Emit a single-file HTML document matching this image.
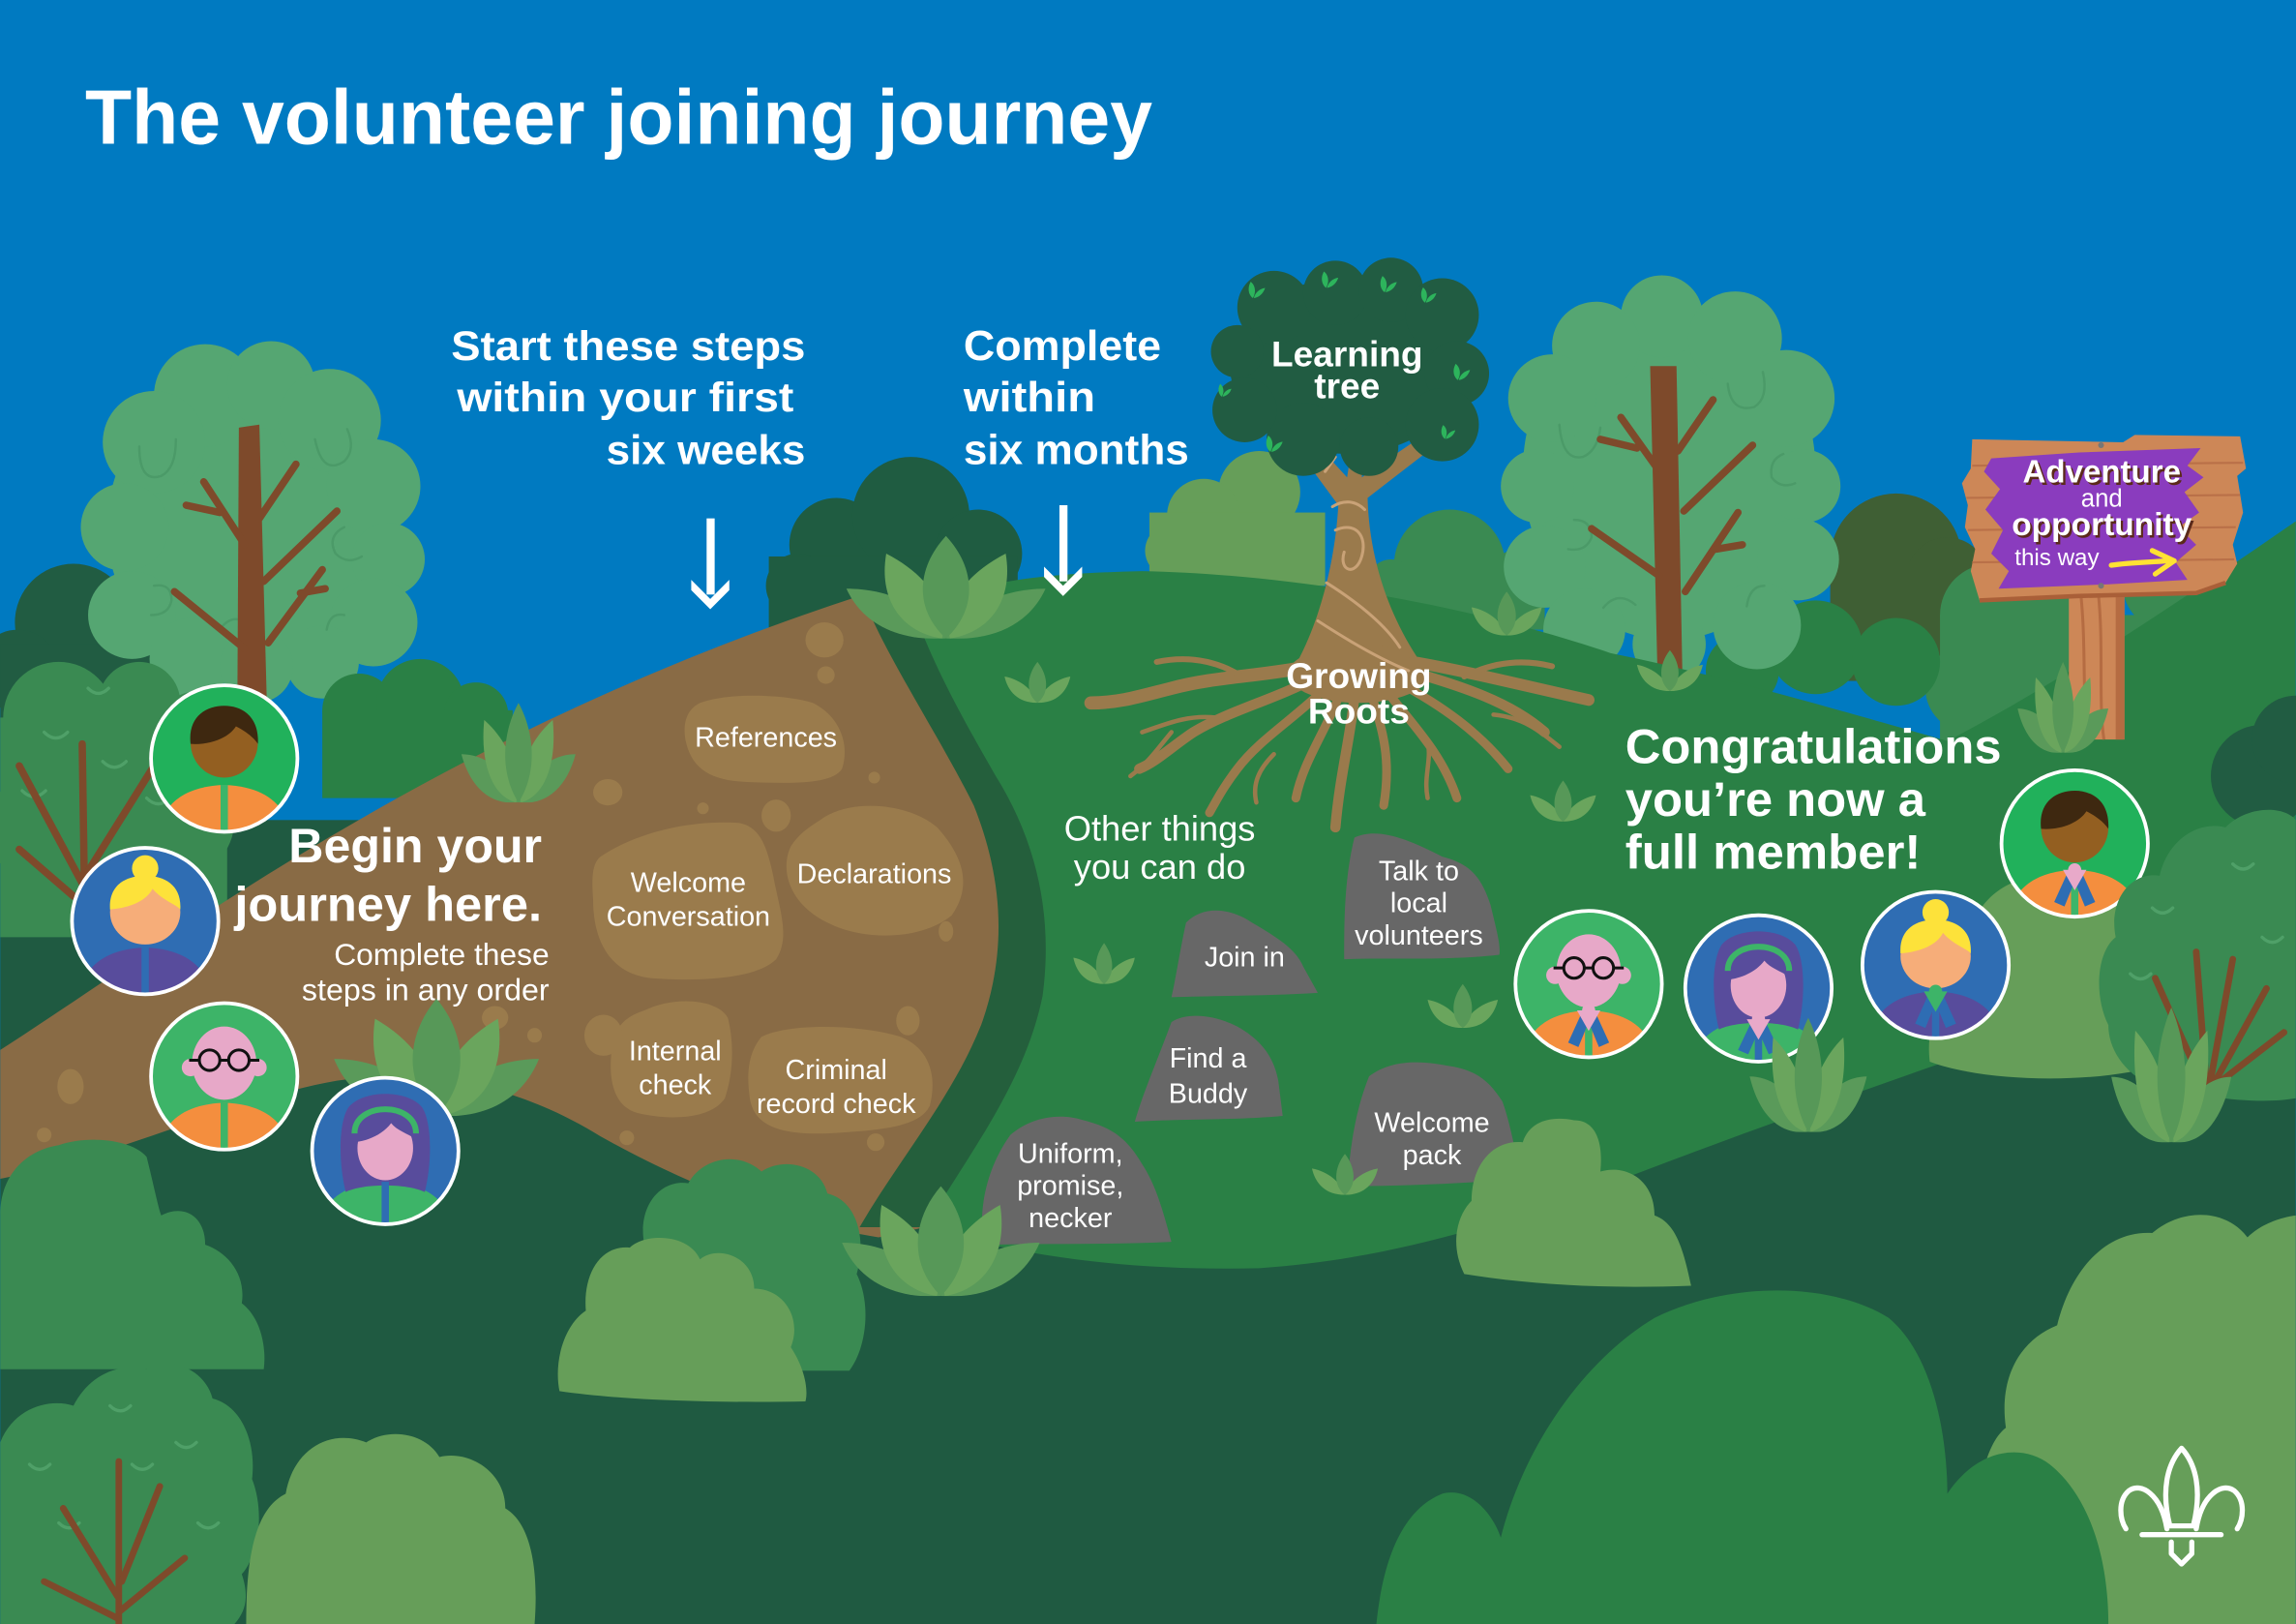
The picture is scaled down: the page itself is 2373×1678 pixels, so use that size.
<!DOCTYPE html>
<html><head><meta charset="utf-8"><title>The volunteer joining journey</title>
<style>
html,body{margin:0;padding:0;overflow:hidden;background:#007ac1}
svg{display:block}
text{font-family:"Liberation Sans",Arial,sans-serif;fill:#fff}
.b{font-weight:bold}
.c{text-anchor:middle}
</style></head><body>
<svg xmlns="http://www.w3.org/2000/svg" width="2373" height="1678" viewBox="0 0 1568 1109">
<defs>
 <symbol id="lv" viewBox="0 0 100 70" preserveAspectRatio="none">
  <path fill="#5a9a5a" d="M0,36 C24,36 44,52 50,70 C26,72 8,60 0,36Z"/>
  <path fill="#5a9a5a" d="M100,36 C92,60 74,72 50,70 C56,52 76,36 100,36Z"/>
  <path fill="#6aa55d" d="M20,12 C40,26 52,48 48,70 C28,66 16,44 20,12Z"/>
  <path fill="#6aa55d" d="M80,12 C84,44 72,66 52,70 C48,48 60,26 80,12Z"/>
  <path fill="#579858" d="M50,0 C65,22 66,50 50,70 C34,50 35,22 50,0Z"/>
 </symbol>
 <symbol id="ls" viewBox="0 0 40 28" preserveAspectRatio="none">
  <path fill="#6aa55d" d="M0,10 C10,12 18,20 20,28 C8,28 2,20 0,10Z"/>
  <path fill="#6aa55d" d="M40,10 C38,20 32,28 20,28 C22,20 30,12 40,10Z"/>
  <path fill="#579858" d="M20,0 C27,10 27,22 20,28 C13,22 13,10 20,0Z"/>
 </symbol>
 <symbol id="bl" viewBox="0 0 20 16">
  <path fill="#2db45c" d="M6,0 C11,4 11,11 8,16 C3,12 3,5 6,0Z"/>
  <path fill="#2db45c" d="M20,6 C18,12 14,15 9,16 C10,11 14,7 20,6Z"/>
 </symbol>
 <clipPath id="cc"><circle r="50"/></clipPath>
</defs>

<!-- sky -->
<rect width="1568" height="1109" fill="#007ac1"/>

<!-- far bushes -->
<g fill="#215c42">
 <circle cx="50" cy="425" r="40"/><circle cx="100" cy="420" r="32"/><circle cx="12" cy="458" r="28"/>
 <rect x="0" y="440" width="140" height="140"/>
</g>
<g fill="#1f5c41">
 <circle cx="571" cy="372" r="32"/><circle cx="622" cy="352" r="40"/><circle cx="668" cy="378" r="30"/><circle cx="545" cy="400" r="22"/>
 <rect x="525" y="380" width="170" height="60"/>
</g>
<g fill="#669e59">
 <circle cx="860" cy="336" r="28"/><circle cx="822" cy="352" r="25"/><circle cx="800" cy="376" r="18"/>
 <rect x="785" y="350" width="120" height="50"/>
</g>
<g fill="#3a8a52">
 <circle cx="990" cy="386" r="38"/><circle cx="950" cy="398" r="16"/><circle cx="1035" cy="396" r="20"/>
 <rect x="935" y="390" width="120" height="40"/>
</g>
<g fill="#3f5f34">
 <circle cx="1295" cy="382" r="45"/><circle cx="1330" cy="395" r="28"/>
 <rect x="1250" y="385" width="95" height="80"/>
</g>
<g fill="#3a8a52">
 <circle cx="1360" cy="420" r="35"/><circle cx="1345" cy="470" r="30"/><circle cx="1395" cy="430" r="28"/>
 <circle cx="1480" cy="400" r="30"/><circle cx="1525" cy="420" r="30"/>
 <rect x="1325" y="420" width="240" height="100"/>
</g>
<g fill="#2a8045">
 <circle cx="1190" cy="458" r="25"/><circle cx="1240" cy="442" r="32"/><circle cx="1295" cy="452" r="30"/>
</g>

<!-- left tree -->
<g fill="#55a672">
 <ellipse cx="173" cy="360" rx="100" ry="105"/>
 <circle cx="140" cy="270" r="35"/><circle cx="185" cy="263" r="30"/><circle cx="225" cy="287" r="35"/>
 <circle cx="105" cy="302" r="35"/><circle cx="255" cy="332" r="32"/><circle cx="85" cy="360" r="30"/>
 <circle cx="265" cy="382" r="25"/><circle cx="90" cy="420" r="30"/><circle cx="255" cy="425" r="30"/>
 <circle cx="130" cy="450" r="28"/><circle cx="220" cy="452" r="25"/><circle cx="175" cy="455" r="25"/>
</g>
<g fill="none" stroke="#4b9a68" stroke-width="1.6" stroke-linecap="round">
 <path d="M95,305 q0,25 15,20 q10,-5 10,-25"/><path d="M215,300 q5,25 20,15 q8,-8 2,-22"/>
 <path d="M235,360 q-12,6 -6,18 q8,8 18,2"/><path d="M105,400 q12,-2 12,10 q-2,10 -14,10"/>
 <path d="M150,430 q8,-12 20,-4 q8,8 0,18"/><path d="M235,420 q-10,-2 -12,10"/>
</g>
<path d="M163,292 L177,290 L182,476 L162,476Z" fill="#7e4a2b"/>
<g stroke="#7e4a2b" stroke-width="5" stroke-linecap="round" fill="none">
 <path d="M167,372 L139,329"/><path d="M150,350 L127,345"/><path d="M177,354 L202,317"/>
 <path d="M180,397 L230,349"/><path d="M167,443 L119,404"/><path d="M183,439 L220,389"/><path d="M205,405 L222,402"/>
</g>

<!-- right tree -->
<g fill="#55a672">
 <ellipse cx="1140" cy="322" rx="100" ry="115"/>
 <circle cx="1135" cy="216" r="28"/><circle cx="1090" cy="236" r="30"/><circle cx="1185" cy="231" r="32"/>
 <circle cx="1060" cy="272" r="30"/><circle cx="1220" cy="272" r="33"/><circle cx="1050" cy="332" r="25"/>
 <circle cx="1232" cy="332" r="25"/><circle cx="1055" cy="387" r="28"/><circle cx="1228" cy="382" r="28"/>
 <circle cx="1082" cy="430" r="28"/><circle cx="1200" cy="427" r="30"/><circle cx="1140" cy="440" r="25"/>
</g>
<g fill="none" stroke="#4b9a68" stroke-width="1.6" stroke-linecap="round">
 <path d="M1065,290 q2,25 16,22 q10,-4 12,-20"/><path d="M1180,262 q2,20 18,16 q10,-6 6,-24"/>
 <path d="M1218,310 q-10,4 -8,16 q6,8 16,4"/><path d="M1075,355 q12,0 12,12 q-4,10 -16,8"/>
 <path d="M1095,415 q10,-12 22,-2"/><path d="M1205,400 q-10,0 -12,14"/>
</g>
<path d="M1127,250 L1145,250 L1149,459 L1132,459Z" fill="#7e4a2b"/>
<g stroke="#7e4a2b" stroke-width="5" stroke-linecap="round" fill="none">
 <path d="M1132,320 L1107,285"/><path d="M1118,306 L1093,300"/><path d="M1146,308 L1170,273"/>
 <path d="M1150,349 L1197,304"/><path d="M1133,393 L1087,361"/><path d="M1151,404 L1187,350"/><path d="M1172,375 L1190,372"/>
</g>

<!-- dark foreground -->
<rect x="0" y="560" width="1568" height="549" fill="#1f5a41"/>

<!-- left bushes -->
<g fill="#3a8a52">
 <circle cx="40" cy="490" r="38"/><circle cx="95" cy="480" r="28"/><circle cx="135" cy="502" r="30"/>
 <circle cx="25" cy="565" r="35"/><circle cx="120" cy="560" r="40"/>
 <rect x="0" y="490" width="155" height="150"/>
</g>
<g fill="none" stroke="#4fa068" stroke-width="2.2" stroke-linecap="round">
 <path d="M30,500 q8,8 16,0"/><path d="M70,520 q8,8 16,0"/><path d="M15,540 q8,8 16,0"/><path d="M100,545 q8,8 16,0"/><path d="M60,470 q7,7 14,0"/>
</g>
<g stroke="#7e4a2b" stroke-width="5" stroke-linecap="round" fill="none">
 <path d="M58,640 L56,508"/><path d="M57,605 L13,523"/><path d="M50,612 L13,580"/><path d="M60,595 L105,523"/>
</g>
<g fill="#2a8045">
 <circle cx="245" cy="485" r="25"/><circle cx="287" cy="480" r="30"/><circle cx="325" cy="488" r="22"/>
 <rect x="220" y="485" width="130" height="60"/>
</g>

<!-- main hill -->
<path d="M610,430 C650,398 700,392 780,390 C880,392 1000,412 1100,446 C1180,462 1280,492 1330,506 C1400,470 1490,410 1568,356 L1568,690 L1400,700 C1300,735 1200,770 1127,798 C1030,835 950,860 860,866 C780,868 700,860 620,835Z" fill="#2a8045"/>
<g fill="#215c42"><circle cx="1545" cy="530" r="35"/><circle cx="1568" cy="505" r="30"/></g>

<!-- path -->
<path d="M0,717 C120,640 300,500 590,406 C615,440 650,490 680,540 C710,600 715,660 700,710 C680,760 650,800 632,838 L600,845 C540,835 480,815 410,776 C360,745 300,728 230,738 C160,750 80,790 0,805Z" fill="#896b45"/>
<path d="M589,406 C600,440 640,500 665,550 C685,600 688,650 670,700 C650,750 615,790 587,838 L632,838 C660,790 700,740 712,680 C720,620 705,570 680,530 C660,495 640,460 625,420 C610,405 595,403 589,406Z" fill="#245f3c"/>

<!-- stones -->
<g fill="#9a7b4c">
 <path d="M478,480 C500,472 540,475 555,480 C575,490 580,510 575,525 C568,536 540,535 510,534 C485,533 472,525 468,505 C466,492 470,484 478,480Z"/>
 <path d="M410,585 C440,565 480,560 505,562 C520,565 524,580 528,598 C532,620 540,640 530,655 C515,670 470,670 445,668 C415,665 405,640 405,615 C404,600 404,590 410,585Z"/>
 <path d="M560,560 C580,545 620,548 640,565 C658,585 664,605 650,625 C630,642 590,643 565,630 C540,618 532,595 540,578 C545,570 552,565 560,560Z"/>
 <path d="M440,690 C460,680 490,682 497,695 C502,715 500,735 495,750 C485,765 455,765 435,760 C418,755 415,735 418,715 C420,700 428,694 440,690Z"/>
 <path d="M520,708 C540,698 590,700 615,708 C635,716 640,735 635,755 C628,770 600,772 565,774 C535,775 515,770 512,750 C510,735 510,720 520,708Z"/>
 <ellipse cx="563" cy="437" rx="13" ry="12"/><circle cx="564" cy="461" r="6"/>
 <ellipse cx="530" cy="557" rx="10" ry="11"/><ellipse cx="412" cy="707" rx="13" ry="14"/>
 <ellipse cx="620" cy="697" rx="8" ry="10"/><ellipse cx="646" cy="636" rx="5" ry="7"/>
 <circle cx="597" cy="531" r="4"/><ellipse cx="48" cy="742" rx="9" ry="12"/><circle cx="30" cy="775" r="5"/>
 <circle cx="428" cy="777" r="5"/><circle cx="598" cy="780" r="6"/><ellipse cx="415" cy="541" rx="10" ry="9"/>
 <circle cx="480" cy="552" r="4"/><circle cx="365" cy="707" r="5"/><ellipse cx="338" cy="695" rx="9" ry="8"/>
</g>

<!-- learning tree -->
<g fill="#9a7a4c">
 <path d="M886,307 L898,302 L920,326 L923,306 L933,304 L930,326 L968,300 L978,306 L934,340 C935,380 948,420 970,452 L886,452 C903,420 912,380 914,345Z"/>
 <ellipse cx="928" cy="460" rx="48" ry="20"/>
</g>
<g fill="none" stroke="#9a7a4c" stroke-linecap="round" stroke-linejoin="round">
 <path stroke-width="9" d="M895,455 C860,462 830,462 800,470 C780,475 765,480 745,480"/>
 <path stroke-width="7" d="M900,462 C870,478 840,485 815,500 C800,510 790,520 778,525"/>
 <path stroke-width="6" d="M905,470 C885,490 860,505 845,525 C835,538 830,548 826,555"/>
 <path stroke-width="6" d="M915,474 C905,500 890,520 885,545"/>
 <path stroke-width="7" d="M925,476 C922,505 915,530 912,565"/>
 <path stroke-width="6" d="M937,476 C945,500 950,520 945,550"/>
 <path stroke-width="6" d="M947,472 C965,495 985,515 995,545"/>
 <path stroke-width="6" d="M955,466 C985,482 1010,500 1030,525"/>
 <path stroke-width="7" d="M962,458 C995,468 1030,478 1055,500"/>
 <path stroke-width="8" d="M965,452 C1000,458 1040,468 1085,478"/>
 <path stroke-width="4" d="M850,463 C830,450 810,448 790,452"/>
 <path stroke-width="4" d="M1000,462 C1020,452 1040,450 1060,455"/>
 <path stroke-width="3" d="M830,490 C810,488 795,495 780,500"/>
 <path stroke-width="3" d="M1020,488 C1040,490 1050,498 1065,510"/>
 <path stroke-width="3" d="M870,515 C860,525 855,535 858,548"/>
 <path stroke-width="3" d="M975,505 C978,520 972,530 975,545"/>
 <path stroke-width="3" d="M800,500 C790,512 785,520 772,530"/>
</g>
<g fill="none" stroke="#c9a277" stroke-width="2" stroke-linecap="round">
 <path d="M910,346 C918,341 926,342 932,348"/><path d="M912,362 C926,356 934,366 930,380 C926,394 914,390 918,377"/>
 <path d="M906,398 C925,410 945,425 956,442"/><path d="M900,424 C920,437 942,450 962,458"/>
 <path d="M905,322 L912,312"/><path d="M944,316 L948,305"/>
</g>
<g fill="#215c42">
 <ellipse cx="920" cy="250" rx="80" ry="60"/>
 <circle cx="870" cy="210" r="25"/><circle cx="912" cy="200" r="22"/><circle cx="950" cy="198" r="22"/>
 <circle cx="985" cy="215" r="25"/><circle cx="995" cy="255" r="22"/><circle cx="985" cy="290" r="25"/>
 <circle cx="935" cy="305" r="20"/><circle cx="890" cy="300" r="25"/><circle cx="850" cy="280" r="22"/><circle cx="845" cy="240" r="18"/>
</g>
<use href="#bl" x="850" y="192" width="14" height="12"/>
<use href="#bl" x="900" y="185" width="14" height="12"/>
<use href="#bl" x="940" y="188" width="14" height="12"/>
<use href="#bl" x="968" y="196" width="13" height="11"/>
<use href="#bl" x="990" y="248" width="14" height="12"/>
<use href="#bl" x="830" y="262" width="11" height="9"/>
<use href="#bl" x="862" y="297" width="14" height="12"/>
<use href="#bl" x="982" y="290" width="12" height="10"/>

<!-- sign -->
<g>
 <rect x="1413" y="398" width="38" height="107" fill="#cd8757"/>
 <path d="M1421,404 C1425,440 1422,480 1426,505 M1433,404 C1437,440 1433,480 1437,505" stroke="#b56c42" stroke-width="2" fill="none"/>
 <rect x="1445" y="404" width="6" height="101" fill="#b56c42"/>
 <path d="M1347,300 L1450,302 L1458,297 L1530,298 L1534,320 L1528,325 L1532,350 L1525,372 L1528,385 L1520,398 L1500,405 L1420,407 L1352,410 L1346,390 L1349,375 L1342,360 L1344,345 L1340,330 L1346,320Z" fill="#cd8757"/>
 <path d="M1352,410 L1420,407 L1500,405 L1520,398" stroke="#a95f38" stroke-width="3" fill="none"/>
 <g stroke="#b97048" stroke-width="1.4" fill="none">
  <path d="M1347,318 L1532,316"/><path d="M1343,340 L1530,338"/><path d="M1344,362 L1527,360"/><path d="M1347,384 L1526,382"/>
 </g>
 <path d="M1360,313 L1420,309 L1503,306 L1494,318 L1505,326 L1492,336 L1502,350 L1488,360 L1500,372 L1486,384 L1494,396 L1440,399 L1365,402 L1372,390 L1360,378 L1368,362 L1356,348 L1366,334 L1355,322Z" fill="#8a3cbe"/>
 <circle cx="1435" cy="304" r="2" fill="#777"/><circle cx="1435" cy="400" r="2" fill="#777"/>
 <text x="1437" y="331" class="b c" font-size="22" textLength="108" lengthAdjust="spacingAndGlyphs" style="fill:#5b2a1a">Adventure</text>
 <text x="1435.5" y="329.5" class="b c" font-size="22" textLength="108" lengthAdjust="spacingAndGlyphs">Adventure</text>
 <text x="1435.5" y="346" class="c" font-size="17">and</text>
 <text x="1437" y="367" class="b c" font-size="22" textLength="123" lengthAdjust="spacingAndGlyphs" style="fill:#5b2a1a">opportunity</text>
 <text x="1435.5" y="365.5" class="b c" font-size="22" textLength="123" lengthAdjust="spacingAndGlyphs">opportunity</text>
 <text x="1376" y="386" font-size="16">this way</text>
 <path d="M1442,386 C1455,384 1468,384 1480,383" stroke="#ffe233" stroke-width="3.5" fill="none" stroke-linecap="round"/>
 <path d="M1470,376 L1485,383 L1472,392" stroke="#ffe233" stroke-width="3.5" fill="none" stroke-linecap="round" stroke-linejoin="round"/>
</g>

<!-- grey rocks -->
<g fill="#676767">
 <path d="M925,572 C940,565 960,572 985,585 C1005,590 1012,600 1018,618 C1022,635 1025,645 1024,652 C990,656 950,654 918,655 C918,630 918,600 925,572Z"/>
 <path d="M810,630 C822,618 840,620 855,630 C872,640 885,648 890,660 L900,678 C870,680 830,680 800,681 C803,668 806,648 810,630Z"/>
 <path d="M800,698 C812,690 835,694 850,704 C862,712 870,722 873,738 L876,762 C845,765 805,764 775,766 C780,748 790,725 800,698Z"/>
 <path d="M935,735 C952,722 975,725 990,728 C1010,731 1018,740 1026,752 C1032,768 1035,790 1040,805 C1000,808 960,810 920,810 C922,785 925,760 935,735Z"/>
 <path d="M690,775 C705,762 725,760 740,765 C760,770 770,778 780,795 C790,810 795,830 800,848 C760,850 720,849 672,850 C668,830 672,800 690,775Z"/>
</g>

<!-- leaf clusters (back) -->
<use href="#lv" x="315" y="480" width="78" height="68"/>
<use href="#lv" x="228" y="682" width="140" height="80"/>
<use href="#lv" x="578" y="366" width="136" height="70"/>
<use href="#ls" x="686" y="452" width="45" height="28"/>
<use href="#ls" x="733" y="644" width="42" height="28"/>
<use href="#ls" x="1005" y="404" width="48" height="30"/>
<use href="#ls" x="1045" y="533" width="45" height="28"/>
<use href="#ls" x="975" y="672" width="48" height="30"/>
<use href="#ls" x="896" y="788" width="45" height="28"/>
<use href="#ls" x="1118" y="444" width="45" height="28"/>
<use href="#lv" x="1378" y="452" width="62" height="62"/>

<!-- olive bushes mid -->
<path d="M1318,725 C1315,700 1325,680 1340,675 L1345,640 C1350,610 1380,595 1400,600 C1420,585 1445,590 1450,610 L1455,732 C1410,740 1350,737 1318,725Z" fill="#669e59"/>
<path d="M1000,870 C990,850 995,830 1005,820 C1005,795 1020,778 1040,780 C1045,765 1060,762 1075,765 C1090,765 1095,780 1093,800 C1110,795 1130,805 1130,830 C1145,835 1150,855 1155,878 C1100,880 1050,878 1000,870Z" fill="#669e59"/>

<!-- arrows -->
<g fill="#fff">
 <rect x="482.5" y="354" width="5.5" height="52"/>
 <polygon points="472,396 485,409 498,396 498,403 485,416 472,403"/>
 <rect x="723.5" y="345" width="5.5" height="52"/>
 <polygon points="713,387 726,400 739,387 739,394 726,407 713,394"/>
</g>

<!-- texts -->
<text x="58" y="98" class="b" font-size="53" textLength="729" lengthAdjust="spacingAndGlyphs">The volunteer joining journey</text>
<text x="308" y="246" class="b" font-size="28" textLength="242" lengthAdjust="spacingAndGlyphs">Start these steps</text>
<text x="312" y="281" class="b" font-size="28" textLength="230" lengthAdjust="spacingAndGlyphs">within your first</text>
<text x="414" y="317" class="b" font-size="28" textLength="136" lengthAdjust="spacingAndGlyphs">six weeks</text>
<text x="658" y="246" class="b" font-size="29" textLength="135" lengthAdjust="spacingAndGlyphs">Complete</text>
<text x="658" y="281" class="b" font-size="29" textLength="90" lengthAdjust="spacingAndGlyphs">within</text>
<text x="658" y="317" class="b" font-size="29" textLength="154" lengthAdjust="spacingAndGlyphs">six months</text>

<text x="920" y="250" class="b c" font-size="24.5">Learning</text>
<text x="920" y="272" class="b c" font-size="24.5">tree</text>
<text x="928" y="470" class="b c" font-size="24.5">Growing</text>
<text x="928" y="494" class="b c" font-size="24.5">Roots</text>

<text x="197" y="589" class="b" font-size="33" textLength="173" lengthAdjust="spacingAndGlyphs">Begin your</text>
<text x="160" y="629" class="b" font-size="33" textLength="210" lengthAdjust="spacingAndGlyphs">journey here.</text>
<text x="228" y="659" font-size="20.5" textLength="147" lengthAdjust="spacingAndGlyphs">Complete these</text>
<text x="206" y="683" font-size="20.5" textLength="169" lengthAdjust="spacingAndGlyphs">steps in any order</text>

<g font-size="19">
 <text x="523" y="510" class="c">References</text>
 <text x="470" y="609" class="c">Welcome</text>
 <text x="470" y="632" class="c">Conversation</text>
 <text x="597" y="603" class="c">Declarations</text>
 <text x="461" y="724" class="c">Internal</text>
 <text x="461" y="747" class="c">check</text>
 <text x="571" y="737" class="c">Criminal</text>
 <text x="571" y="760" class="c">record check</text>
 <text x="969" y="601" class="c">Talk to</text>
 <text x="969" y="623" class="c">local</text>
 <text x="969" y="645" class="c">volunteers</text>
 <text x="850" y="660" class="c">Join in</text>
 <text x="825" y="729" class="c">Find a</text>
 <text x="825" y="753" class="c">Buddy</text>
 <text x="978" y="773" class="c">Welcome</text>
 <text x="978" y="795" class="c">pack</text>
 <text x="731" y="794" class="c">Uniform,</text>
 <text x="731" y="816" class="c">promise,</text>
 <text x="731" y="838" class="c">necker</text>
</g>
<text x="792" y="574" class="c" font-size="24">Other things</text>
<text x="792" y="600" class="c" font-size="24">you can do</text>

<text x="1110" y="521" class="b" font-size="33" textLength="257" lengthAdjust="spacingAndGlyphs">Congratulations</text>
<text x="1110" y="557" class="b" font-size="33" textLength="205" lengthAdjust="spacingAndGlyphs">you’re now a</text>
<text x="1110" y="593" class="b" font-size="33" textLength="202" lengthAdjust="spacingAndGlyphs">full member!</text>

<!-- avatars -->
<g transform="translate(153,518)">
 <g clip-path="url(#cc)">
  <circle r="51" fill="#21b15b"/>
  <path d="M-46,56 C-44,30 -26,19 0,18 C26,19 44,30 46,56Z" fill="#f48e3e"/>
  <rect x="-2.5" y="18" width="5" height="40" fill="#3cb56a"/>
  <ellipse cx="0" cy="-11" rx="23" ry="24" fill="#935f21"/>
  <path d="M-23,-10 C-25,-28 -13,-36 0,-36 C13,-36 24,-28 23,-10 C19,-16 12,-20 8,-22 C3,-14 -10,-9 -23,-10Z" fill="#3e2810"/>
 </g>
 <circle r="50" fill="none" stroke="#fff" stroke-width="2.5"/>
</g>
<g transform="translate(99,629)">
 <g clip-path="url(#cc)">
  <circle r="51" fill="#2f6db3"/>
  <path d="M-46,56 C-44,30 -26,19 0,18 C26,19 44,30 46,56Z" fill="#584c9c"/>
  <rect x="-2.5" y="18" width="5" height="40" fill="#2f6db3"/>
  <ellipse cx="0" cy="-6" rx="24" ry="22" fill="#f6ad79"/>
  <circle cx="0" cy="-36" r="9" fill="#fde23a"/>
  <path d="M-24,-8 C-25,-24 -14,-31 0,-31 C14,-31 25,-24 24,-8 C20,-12 12,-14 5,-22 C1,-14 -10,-9 -24,-8Z" fill="#fde23a"/>
 </g>
 <circle r="50" fill="none" stroke="#fff" stroke-width="2.5"/>
</g>
<g transform="translate(153,735)">
 <g clip-path="url(#cc)">
  <circle r="51" fill="#3db468"/>
  <path d="M-46,56 C-44,30 -26,19 0,18 C26,19 44,30 46,56Z" fill="#f48e3e"/>
  <rect x="-2.5" y="18" width="5" height="40" fill="#3db468"/>
  <circle cx="-23" cy="-6" r="6" fill="#e7a8c8"/><circle cx="23" cy="-6" r="6" fill="#e7a8c8"/>
  <ellipse cx="0" cy="-9" rx="22" ry="25" fill="#e7a8c8"/>
  <g fill="none" stroke="#111" stroke-width="2"><circle cx="-10" cy="-11" r="7"/><circle cx="10" cy="-11" r="7"/><path d="M-3,-11 H3 M-17,-11 H-24 M17,-11 H24"/></g>
 </g>
 <circle r="50" fill="none" stroke="#fff" stroke-width="2.5"/>
</g>
<g transform="translate(263,786)">
 <g clip-path="url(#cc)">
  <circle r="51" fill="#2f6db3"/>
  <path d="M-46,56 C-44,32 -26,22 0,21 C26,22 44,32 46,56Z" fill="#3db468"/>
  <path d="M-27,28 C-32,8 -32,-20 -25,-30 C-15,-42 15,-42 25,-30 C32,-20 32,8 27,28 C15,22 -15,22 -27,28Z" fill="#584c9c"/>
  <rect x="-2.5" y="21" width="5" height="40" fill="#2f6db3"/>
  <ellipse cx="0" cy="-2" rx="19" ry="22" fill="#e7a8c8"/>
  <path d="M-21,-6 C-22,-24 -10,-30 2,-30 C14,-30 22,-22 21,-8 C15,-12 8,-14 4,-19 C-2,-11 -12,-7 -21,-6Z" fill="#584c9c"/>
  <path d="M-21,-12 C-21,-34 21,-34 21,-12" fill="none" stroke="#3db468" stroke-width="4"/>
 </g>
 <circle r="50" fill="none" stroke="#fff" stroke-width="2.5"/>
</g>
<g transform="translate(1085,672)">
 <g clip-path="url(#cc)">
  <circle r="51" fill="#3db468"/>
  <path d="M-46,56 C-44,30 -26,19 0,18 C26,19 44,30 46,56Z" fill="#f48e3e"/>
  <rect x="-2.5" y="18" width="5" height="40" fill="#3db468"/>
  <circle cx="-23" cy="-6" r="6" fill="#e7a8c8"/><circle cx="23" cy="-6" r="6" fill="#e7a8c8"/>
  <ellipse cx="0" cy="-9" rx="22" ry="25" fill="#e7a8c8"/>
  <g fill="none" stroke="#111" stroke-width="2"><circle cx="-10" cy="-11" r="7"/><circle cx="10" cy="-11" r="7"/><path d="M-3,-11 H3 M-17,-11 H-24 M17,-11 H24"/></g>
  <path d="M-4,18 L-14,40 L-7,43 L0,26Z" fill="#2e6db3"/><path d="M4,18 L14,40 L7,43 L0,26Z" fill="#2e6db3"/>
  <path d="M-8,18 L8,18 L0,32Z" fill="#e8a9c9"/><circle cy="18" r="4.5" fill="#e8a9c9"/>
 </g>
 <circle r="50" fill="none" stroke="#fff" stroke-width="2.5"/>
</g>
<g transform="translate(1201,675)">
 <g clip-path="url(#cc)">
  <circle r="51" fill="#2f6db3"/>
  <path d="M-46,56 C-44,32 -26,22 0,21 C26,22 44,32 46,56Z" fill="#3db468"/>
  <path d="M-27,28 C-32,8 -32,-20 -25,-30 C-15,-42 15,-42 25,-30 C32,-20 32,8 27,28 C15,22 -15,22 -27,28Z" fill="#584c9c"/>
  <rect x="-2.5" y="21" width="5" height="40" fill="#2f6db3"/>
  <ellipse cx="0" cy="-2" rx="19" ry="22" fill="#e7a8c8"/>
  <path d="M-21,-6 C-22,-24 -10,-30 2,-30 C14,-30 22,-22 21,-8 C15,-12 8,-14 4,-19 C-2,-11 -12,-7 -21,-6Z" fill="#584c9c"/>
  <path d="M-21,-12 C-21,-34 21,-34 21,-12" fill="none" stroke="#3db468" stroke-width="4"/>
  <path d="M-4,21 L-14,42 L-7,45 L0,29Z" fill="#2e6db3"/><path d="M4,21 L14,42 L7,45 L0,29Z" fill="#2e6db3"/>
  <path d="M-8,21 L8,21 L0,35Z" fill="#e8a9c9"/><circle cy="21" r="4.5" fill="#e8a9c9"/>
 </g>
 <circle r="50" fill="none" stroke="#fff" stroke-width="2.5"/>
</g>
<g transform="translate(1322,659)">
 <g clip-path="url(#cc)">
  <circle r="51" fill="#2f6db3"/>
  <path d="M-46,56 C-44,30 -26,19 0,18 C26,19 44,30 46,56Z" fill="#584c9c"/>
  <rect x="-2.5" y="18" width="5" height="40" fill="#2f6db3"/>
  <ellipse cx="0" cy="-6" rx="24" ry="22" fill="#f6ad79"/>
  <circle cx="0" cy="-36" r="9" fill="#fde23a"/>
  <path d="M-24,-8 C-25,-24 -14,-31 0,-31 C14,-31 25,-24 24,-8 C20,-12 12,-14 5,-22 C1,-14 -10,-9 -24,-8Z" fill="#fde23a"/>
  <path d="M-4,18 L-14,40 L-7,43 L0,26Z" fill="#2e6db3"/><path d="M4,18 L14,40 L7,43 L0,26Z" fill="#2e6db3"/>
  <path d="M-8,18 L8,18 L0,32Z" fill="#3db468"/><circle cy="18" r="4.5" fill="#3db468"/>
 </g>
 <circle r="50" fill="none" stroke="#fff" stroke-width="2.5"/>
</g>
<g transform="translate(1417,576)">
 <g clip-path="url(#cc)">
  <circle r="51" fill="#21b15b"/>
  <path d="M-46,56 C-44,30 -26,19 0,18 C26,19 44,30 46,56Z" fill="#f48e3e"/>
  <rect x="-2.5" y="18" width="5" height="40" fill="#3cb56a"/>
  <ellipse cx="0" cy="-11" rx="23" ry="24" fill="#935f21"/>
  <path d="M-23,-10 C-25,-28 -13,-36 0,-36 C13,-36 24,-28 23,-10 C19,-16 12,-20 8,-22 C3,-14 -10,-9 -23,-10Z" fill="#3e2810"/>
  <path d="M-4,18 L-14,40 L-7,43 L0,26Z" fill="#2e6db3"/><path d="M4,18 L14,40 L7,43 L0,26Z" fill="#2e6db3"/>
  <path d="M-8,18 L8,18 L0,32Z" fill="#e8a9c9"/><circle cy="18" r="4.5" fill="#e8a9c9"/>
 </g>
 <circle r="50" fill="none" stroke="#fff" stroke-width="2.5"/>
</g>

<!-- right bush with branches -->
<path d="M1440,700 C1430,680 1432,650 1445,640 C1440,615 1455,595 1475,598 C1480,575 1500,560 1520,565 C1535,550 1560,550 1568,560 L1568,750 C1540,755 1500,748 1470,742 C1450,732 1440,716 1440,700Z" fill="#3a8a52"/>
<g fill="none" stroke="#4fa068" stroke-width="2.2" stroke-linecap="round">
 <path d="M1470,620 q7,7 14,0"/><path d="M1525,590 q7,7 14,0"/><path d="M1545,640 q7,7 14,0"/><path d="M1455,665 q7,7 14,0"/>
</g>
<g stroke="#7e4a2b" stroke-width="4.5" stroke-linecap="round" fill="none">
 <path d="M1505,742 L1472,668"/><path d="M1507,742 L1500,650"/><path d="M1509,742 L1525,655"/><path d="M1511,742 L1548,675"/><path d="M1512,742 L1560,705"/>
</g>
<use href="#lv" x="1195" y="695" width="80" height="78"/>
<use href="#lv" x="1442" y="688" width="82" height="92"/>

<!-- foreground bushes -->
<path d="M0,935 L0,830 C0,800 20,785 40,782 C60,775 90,778 100,790 C105,810 108,825 110,830 C125,822 140,830 140,850 C155,855 168,870 165,890 C178,900 182,920 180,935Z" fill="#3a8a52"/>
<path d="M0,1109 L0,985 C10,960 35,955 50,960 C60,940 80,930 100,935 C115,925 140,935 145,955 C165,960 175,985 172,1010 C180,1030 178,1060 165,1075 C170,1090 168,1100 160,1109Z" fill="#3a8a52"/>
<g fill="none" stroke="#4fa068" stroke-width="2.2" stroke-linecap="round">
 <path d="M20,1000 q7,7 14,0"/><path d="M75,960 q7,7 14,0"/><path d="M120,985 q7,7 14,0"/><path d="M40,1040 q7,7 14,0"/><path d="M135,1040 q7,7 14,0"/><path d="M90,1000 q7,7 14,0"/>
</g>
<g stroke="#7e4a2b" stroke-width="4.5" stroke-linecap="round" fill="none">
 <path d="M81,1109 L81,998"/><path d="M80,1090 L43,1030"/><path d="M83,1080 L109,1015"/><path d="M82,1100 L126,1064"/><path d="M80,1105 L30,1080"/>
</g>
<path d="M168,1109 C168,1060 175,1030 195,1020 C200,990 225,975 250,985 C265,975 290,978 300,995 C320,990 345,1005 345,1030 C362,1040 368,1070 365,1109Z" fill="#669e59"/>
<path d="M440,936 C430,900 428,870 440,850 C435,825 450,805 470,808 C480,790 505,786 520,800 C535,790 560,795 565,815 C585,820 592,845 585,870 C595,890 592,920 580,936Z" fill="#3a8a52"/>
<path d="M382,950 C378,930 385,905 400,895 C398,870 410,850 430,852 C440,842 470,842 478,860 C490,850 515,858 515,880 C535,880 548,900 540,920 C550,935 552,950 550,957 C500,958 430,957 382,950Z" fill="#669e59"/>
<use href="#lv" x="575" y="810" width="135" height="75"/>
<use href="#lv" x="1062" y="940" width="75" height="70"/>
<path d="M1350,1109 C1345,1050 1350,990 1370,975 C1365,940 1380,915 1405,905 C1415,865 1440,840 1470,842 C1490,825 1520,825 1535,845 C1548,832 1568,830 1568,830 L1568,1109Z" fill="#669e59"/>
<path d="M940,1109 C945,1060 960,1030 985,1020 C1005,1015 1020,1035 1025,1050 C1040,990 1080,930 1130,900 C1180,875 1250,875 1290,900 C1320,925 1330,980 1330,1020 C1350,990 1380,985 1400,1000 C1425,1020 1440,1060 1440,1109Z" fill="#2a8045"/>

<!-- logo -->
<g fill="none" stroke="#fff" stroke-width="3.5" stroke-linejoin="round" stroke-linecap="round">
 <path d="M1490,989 C1480,1000 1476,1018 1482,1042 L1498,1042 C1504,1018 1500,1000 1490,989Z"/>
 <path d="M1480,1044 C1476,1020 1462,1012 1454,1018 C1446,1025 1448,1038 1452,1044"/>
 <path d="M1500,1044 C1504,1020 1518,1012 1526,1018 C1534,1025 1532,1038 1528,1044"/>
 <path d="M1463,1048 H1517"/>
 <path d="M1483,1053 V1061 L1490,1068 L1497,1061 V1053"/>
</g>
</svg>
</body></html>
